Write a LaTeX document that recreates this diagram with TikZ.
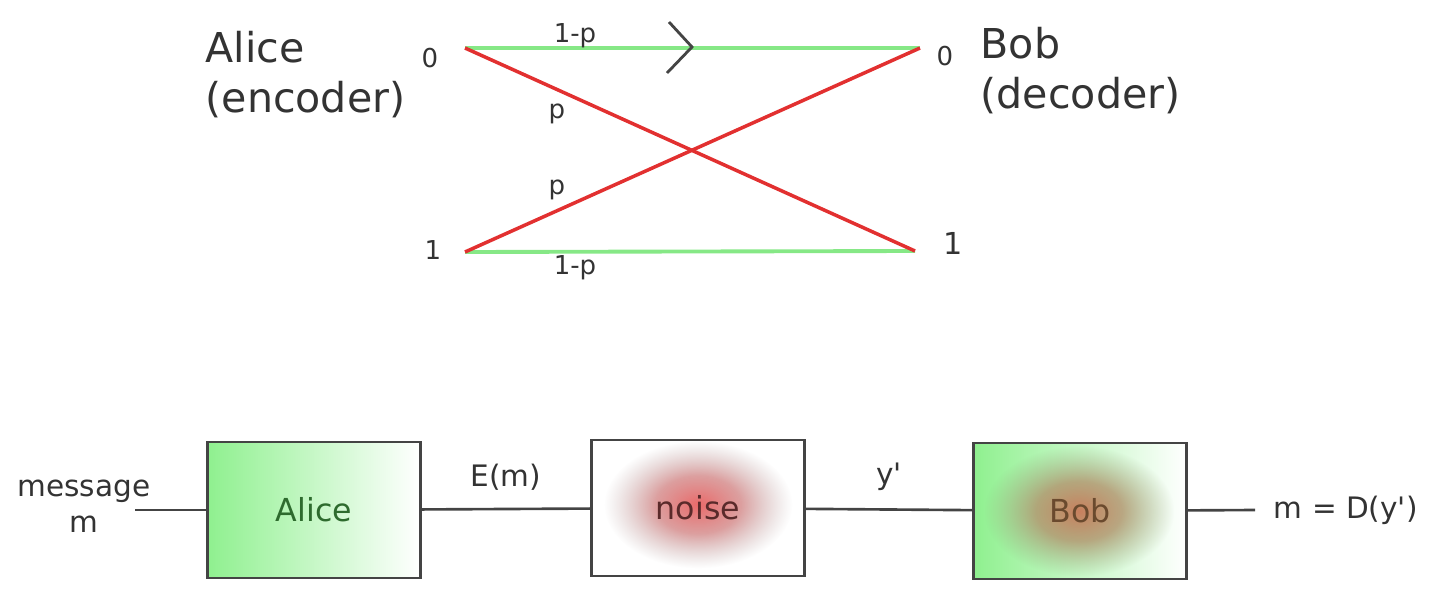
\documentclass[tikz,border=0pt]{standalone}
\usepackage{fontspec}
\setmainfont{DejaVu Sans}
\usepackage{xcolor}
\usepackage{tikz}
\usetikzlibrary{positioning,fadings}
\pgfdeclareradialshading{blobmask}{\pgfpointorigin}{color(0bp)=(pgftransparent!0); color(10bp)=(pgftransparent!20); color(22bp)=(pgftransparent!100); color(50bp)=(pgftransparent!100)}
\pgfdeclarefading{blobfade}{\pgfuseshading{blobmask}}
\definecolor{ink}{HTML}{333333}
\definecolor{wire}{HTML}{444444}
\definecolor{keepgreen}{HTML}{86E886}
\definecolor{flipred}{HTML}{E23030}
\definecolor{boxgreen}{HTML}{8FF08F}
\definecolor{alicetext}{HTML}{2E6B2E}
\definecolor{noisetext}{HTML}{5A2A2A}
\definecolor{bobtext}{HTML}{6A4A2E}
\definecolor{noisered}{HTML}{EA6A6A}
\definecolor{bobbrown}{HTML}{C8805E}
\definecolor{bobmid}{HTML}{8EAE80}
\tikzset{
  keepline/.style={keepgreen, line width=1.1pt},
  flipline/.style={flipred, line width=1.0pt},
  wireline/.style={wire, line width=0.75pt},
  bit/.style={text=ink, inner sep=1pt, font=\fontsize{7.4}{9}\selectfont},
  prob/.style={text=ink, inner sep=1pt, font=\fontsize{7.4}{9}\selectfont},
  party/.style={text=ink, inner sep=0pt, align=left, font=\fontsize{11.7}{14}\selectfont},
  blockbox/.style={draw=wire, line width=0.75pt, minimum width=2.13cm,
    minimum height=1.36cm, inner sep=0pt, font=\fontsize{9}{11}\selectfont},
  greenbox/.style={blockbox, left color=boxgreen, right color=white},
  sig/.style={text=ink, inner sep=1pt, font=\fontsize{8.4}{10.2}\selectfont}
}
\begin{document}
\begin{tikzpicture}[x=0.01cm,y=-0.01cm]
\useasboundingbox (0,0) rectangle (1433,603);
% binary symmetric channel
\coordinate (a0) at (465,48);
\coordinate (a1) at (465,252);
\coordinate (b0) at (920,48);
\coordinate (b1) at (915,251);
\draw[keepline] (a0) -- (b0);
\draw[keepline] (a1) -- (b1);
\draw[flipline] (a0) -- (b1);
\draw[flipline] (a1) -- (b0);
\draw[wireline, line width=0.8pt] (669,22) -- (692,47) -- (667,73);
\node[bit] (in0) at (430,58) {0};
\node[bit] (in1) at (433,250) {1};
\node[bit] (out0) at (945,56) {0};
\node[bit, font=\fontsize{8.6}{10}\selectfont] (out1) at (953,243) {1};
\node[prob] (p00) at (575,36) {1-p};
\node[prob] (p11) at (575,268) {1-p};
\node[prob] (p01) at (557,114) {p};
\node[prob] (p10) at (557,190) {p};
\node[party, anchor=north west] (alice) at (205,31) {Alice\\(encoder)};
\node[party, anchor=north west] (bob) at (980,27) {Bob\\(decoder)};
% block diagram
\node[greenbox, text=alicetext] (enc) at (314,510) {Alice};
\node[blockbox, fill=white, text=noisetext,
  path picture={\shade[inner color=noisered, outer color=gray!60, path fading=blobfade]
    ([yshift=1pt]path picture bounding box.center) ellipse [x radius=1.05cm, y radius=0.72cm];}]
  (noise) at (698,508) {noise};
\node[greenbox, text=bobtext,
  path picture={\shade[inner color=bobbrown, outer color=bobmid, path fading=blobfade]
    ([xshift=-1pt]path picture bounding box.center) ellipse [x radius=1.05cm, y radius=0.74cm];}]
  (dec) at (1080,511) {Bob};
\coordinate (msg) at (135,510);
\coordinate (res) at (1255,510);
\node[sig, align=center] (msglab) at (84,506) {message\\m};
\draw[wireline] (msg) -- (enc);
\draw[wireline] (enc) -- (noise) node[sig, midway, above=4pt] (em) {E(m)};
\draw[wireline] (noise) -- (dec) node[sig, midway, above=4pt] (yp) {y\textquotesingle};
\draw[wireline] (dec) -- (res) node[sig, right=4pt] (mlab) {m = D(y\textquotesingle)};
\end{tikzpicture}
\end{document}
